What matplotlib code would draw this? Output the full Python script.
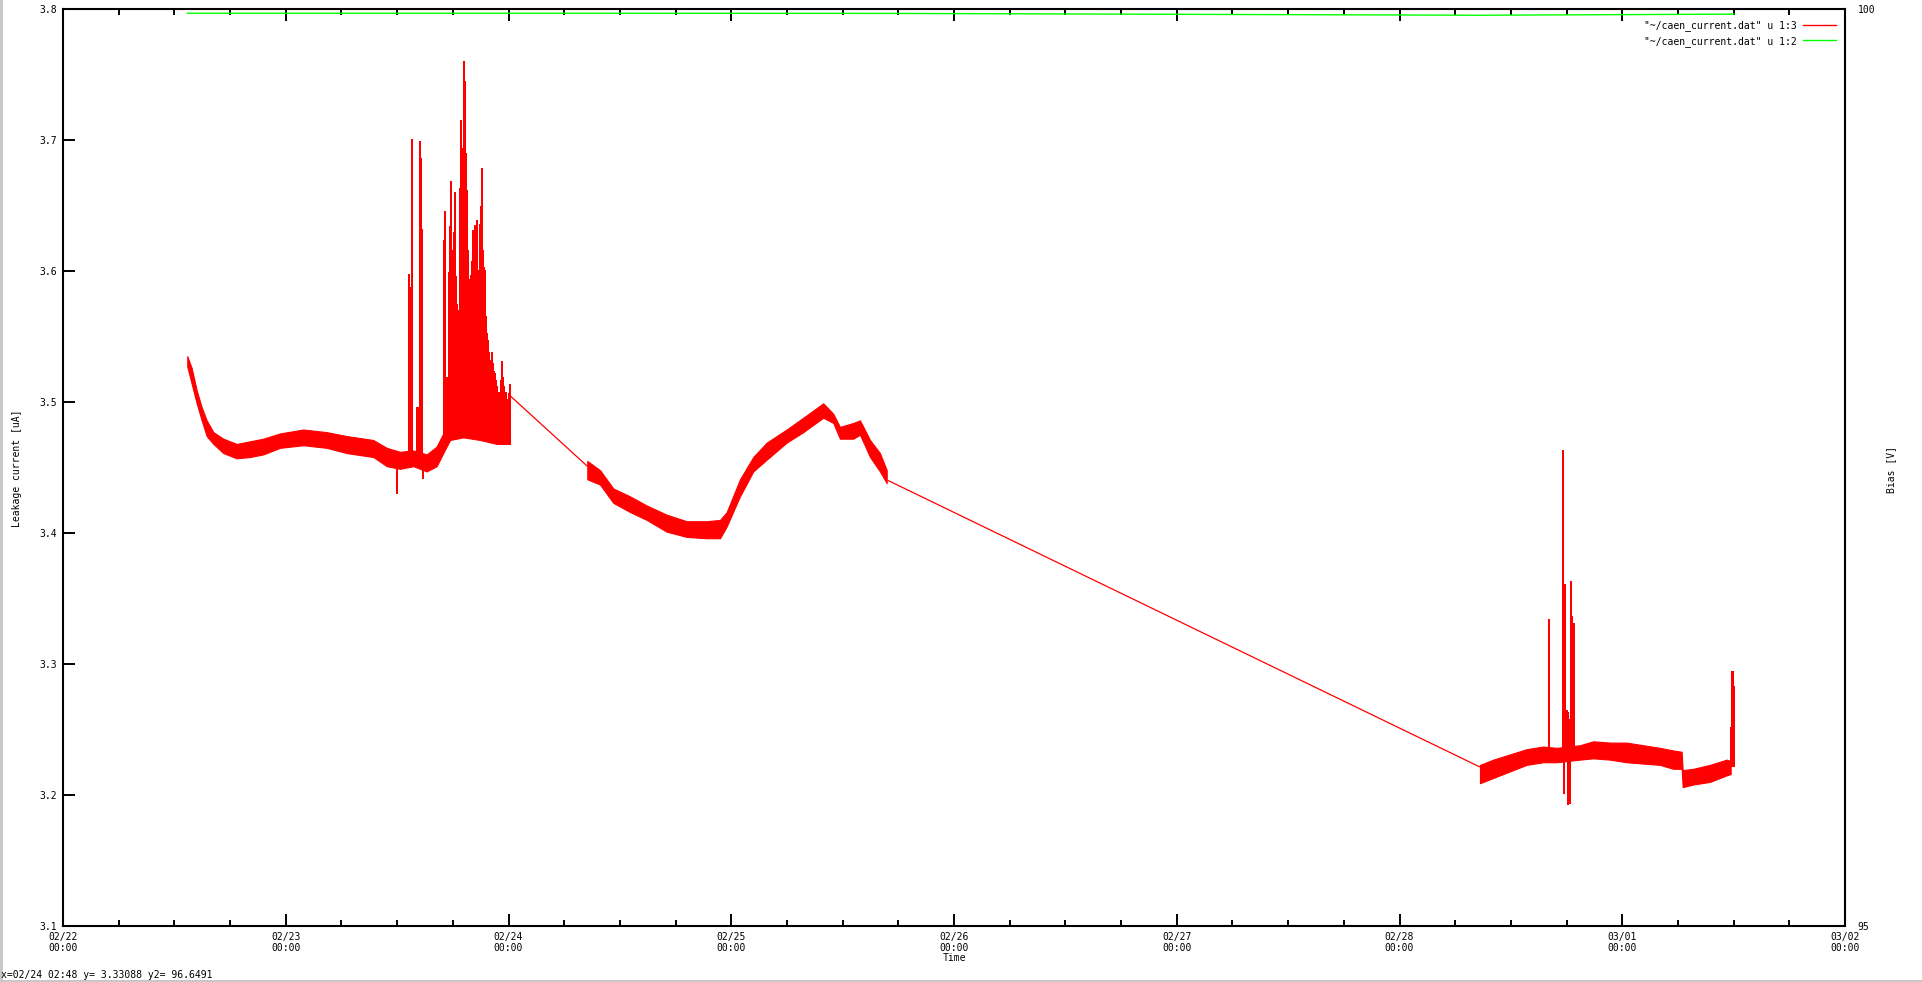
import numpy as np
import pandas as pd
import matplotlib
matplotlib.use("Agg")
import matplotlib.pyplot as plt
import matplotlib.dates as mdates
from matplotlib.patches import Rectangle

plt.rcParams["font.family"] = ["DejaVu Sans Mono"]
plt.rcParams["font.size"] = 7

# time in hours since 02/22 00:00, current in uA (noise band: lo/hi)
seg1_t = [13.39, 13.86, 14.40, 14.94, 15.48, 16.20, 17.27, 18.71, 20.15, 21.58, 23.38,
          25.89, 28.41, 30.57, 33.43, 34.88, 36.31, 37.74, 39.19, 40.26, 40.97, 41.70,
          43.13, 44.93, 46.73, 48.16]
seg1_hi = [3.535, 3.526, 3.509, 3.496, 3.486, 3.477, 3.472, 3.468, 3.470, 3.472, 3.476,
           3.479, 3.477, 3.474, 3.471, 3.465, 3.462, 3.463, 3.460, 3.466, 3.476, 3.480,
           3.479, 3.476, 3.475, 3.474]
seg1_lo = [3.527, 3.514, 3.499, 3.486, 3.474, 3.468, 3.461, 3.457, 3.458, 3.460, 3.465,
           3.467, 3.465, 3.461, 3.458, 3.451, 3.449, 3.451, 3.447, 3.451, 3.461, 3.471,
           3.473, 3.471, 3.468, 3.468]

seg2_t = [56.49, 57.86, 59.29, 61.09, 62.89, 65.04, 67.20, 69.35, 70.79, 71.51, 72.94,
          74.37, 75.82, 77.97, 79.76, 81.91, 82.99, 83.71, 85.15, 85.87, 86.95, 88.02, 88.75]
seg2_hi = [3.455, 3.448, 3.434, 3.428, 3.421, 3.414, 3.409, 3.409, 3.410, 3.416, 3.441,
           3.458, 3.469, 3.479, 3.488, 3.499, 3.491, 3.481, 3.484, 3.486, 3.471, 3.461, 3.448]
seg2_lo = [3.441, 3.437, 3.423, 3.416, 3.410, 3.401, 3.397, 3.396, 3.396, 3.405, 3.428,
           3.447, 3.456, 3.469, 3.477, 3.488, 3.484, 3.472, 3.472, 3.475, 3.458, 3.447, 3.438]

seg3_t = [152.67, 154.10, 155.90, 157.70, 159.49, 160.93, 163.44, 164.88, 166.67, 168.47,
          170.26, 172.06, 173.49, 174.40, 174.51, 175.65, 177.45, 179.25, 179.68]
seg3_hi = [3.223, 3.227, 3.231, 3.235, 3.237, 3.236, 3.238, 3.241, 3.240, 3.240,
           3.238, 3.236, 3.234, 3.233, 3.219, 3.220, 3.223, 3.227, 3.226]
seg3_lo = [3.209, 3.213, 3.218, 3.223, 3.225, 3.225, 3.227, 3.228, 3.227, 3.225,
           3.224, 3.223, 3.220, 3.220, 3.206, 3.208, 3.210, 3.215, 3.216]

# single-sample excursions
spike_t = [36.02, 37.31, 37.42, 37.57, 38.18, 38.28, 38.50, 38.61, 38.71, 38.75,
           41.08, 41.19, 41.41, 41.62, 41.73, 41.84, 41.95, 42.16, 42.27, 42.38, 42.49,
           42.59, 42.81, 42.92, 43.02, 43.13, 43.24, 43.35, 43.45, 43.56, 43.67, 43.78,
           43.89, 43.99, 44.10, 44.21, 44.32, 44.42, 44.53, 44.64, 44.75, 44.96, 45.07,
           45.18, 45.29, 45.39, 45.50, 45.61, 45.72, 45.82, 45.93, 46.04, 46.15, 46.26,
           46.36, 46.47, 46.58, 46.69, 46.79, 46.90, 47.01, 47.12, 47.22, 47.33, 47.44,
           47.55, 47.66, 47.76, 47.87, 47.98, 48.09, 48.20,
           160.13, 161.64, 161.75, 161.86, 161.97, 162.07, 162.15, 162.18, 162.29, 162.35,
           162.50, 162.61, 162.76, 179.74, 179.85, 179.96, 180.03]
spike_v = [3.430, 3.598, 3.588, 3.701, 3.496, 3.496, 3.699, 3.686, 3.632, 3.4415,
           3.624, 3.646, 3.519, 3.599, 3.634, 3.669, 3.616, 3.630, 3.660, 3.596, 3.575,
           3.570, 3.663, 3.715, 3.649, 3.694, 3.7605, 3.745, 3.690, 3.662, 3.616, 3.587,
           3.594, 3.597, 3.608, 3.631, 3.608, 3.635, 3.628, 3.639, 3.601, 3.636, 3.650,
           3.679, 3.616, 3.603, 3.601, 3.566, 3.553, 3.547, 3.538, 3.532, 3.526, 3.538,
           3.530, 3.524, 3.522, 3.517, 3.512, 3.507, 3.508, 3.502, 3.517, 3.531, 3.519,
           3.512, 3.507, 3.508, 3.502, 3.496, 3.507, 3.514,
           3.334, 3.463, 3.201, 3.361, 3.262, 3.265, 3.263, 3.192, 3.258, 3.193,
           3.363, 3.337, 3.331, 3.252, 3.295, 3.295, 3.283]

# straight lines across missing data
gap_t = [[48.20, 56.49], [88.92, 152.60]]
gap_v = [[3.5046, 3.451], [3.440, 3.2216]]

# bias voltage
bias_t = [13.39, 48.16, 56.49, 88.92, 152.67, 180.03]
bias_v = [99.977, 99.977, 99.977, 99.976, 99.966, 99.972]

start = mdates.date2num(pd.Timestamp("2013-02-22"))


def tx(h):
    return start + np.asarray(h) / 24.0


W, H = 1922, 982
fig = plt.figure(figsize=(W / 100, H / 100), dpi=100)
ax = fig.add_axes([63 / W, 1 - 926 / H, (1845 - 63) / W, (926 - 9) / H])

red = "#ff0000"
green = "#00ff00"

segs = [(seg1_t, seg1_lo, seg1_hi), (seg2_t, seg2_lo, seg2_hi), (seg3_t, seg3_lo, seg3_hi)]
for t, lo, hi in segs:
    ax.fill_between(tx(t), lo, hi, color=red, lw=0.8, ec=red)

all_t = np.concatenate([s[0] for s in segs])
all_mid = np.concatenate([(np.array(s[1]) + np.array(s[2])) / 2 for s in segs])
base = np.interp(spike_t, all_t, all_mid)
ax.vlines(tx(spike_t), base, spike_v, color=red, lw=1.4, antialiased=False)

for t, v in zip(gap_t, gap_v):
    ax.plot(tx(t), v, color=red, lw=0.9)

ax.set_xlim(tx(0), tx(192))
ax.set_ylim(3.1, 3.8)
ax.set_yticks(np.arange(3.1, 3.81, 0.1))
ax.yaxis.set_major_formatter(plt.FormatStrFormatter("%.1f"))
ax.xaxis.set_major_locator(mdates.DayLocator())
ax.xaxis.set_minor_locator(mdates.HourLocator(byhour=[6, 12, 18]))
ax.xaxis.set_major_formatter(mdates.DateFormatter("%m/%d\n%H:%M"))
ax.tick_params(axis="both", which="major", direction="in", length=8.6, width=1.4,
               top=True, right=True, labelsize=7)
ax.tick_params(axis="x", which="minor", direction="in", length=4.3, width=1.4, top=True)
ax.tick_params(axis="y", pad=4)
ax.tick_params(axis="x", pad=4)
for s in ax.spines.values():
    s.set_linewidth(1.5)

ax2 = ax.twinx()
ax2.set_ylim(95, 100)
ax2.set_yticks([95, 100])
ax2.tick_params(axis="y", direction="in", length=0, pad=9, labelsize=7)
for s in ax2.spines.values():
    s.set_visible(False)
ax2.plot(tx(bias_t), bias_v, color=green, lw=1.0)

(h1,) = ax.plot([], [], color=red, lw=1.0)
(h2,) = ax.plot([], [], color=green, lw=1.0)
ax2.legend([h1, h2], ['"~/caen_current.dat" u 1:3', '"~/caen_current.dat" u 1:2'],
           loc="upper right", bbox_to_anchor=(1836 / W, 1 - 20 / H),
           bbox_transform=fig.transFigure, frameon=False, markerfirst=False,
           handlelength=3.4, handletextpad=0.6, labelspacing=0.5, fontsize=7,
           borderpad=0, borderaxespad=0)

fig.text(17 / W, 1 - 468 / H, "Leakage current [uA]", rotation=90, ha="center",
         va="center", fontsize=7)
fig.text(1891 / W, 1 - 470 / H, "Bias [V]", rotation=90, ha="center", va="center",
         fontsize=7)
fig.text(954 / W, 1 - 958 / H, "Time", ha="center", va="center", fontsize=7)
fig.text(1 / W, 1 - 975 / H, "x=02/24 02:48 y= 3.33088 y2= 96.6491", ha="left",
         va="center", fontsize=7)

# window frame bits
for rect in [(0, 0, 3, H), (0, H - 2, W, 2)]:
    x0, y0, w, h = rect
    fig.add_artist(Rectangle((x0 / W, 1 - (y0 + h) / H), w / W, h / H,
                             transform=fig.transFigure, color="#c8c8c8", lw=0))

fig.savefig("out.png", dpi=100)
